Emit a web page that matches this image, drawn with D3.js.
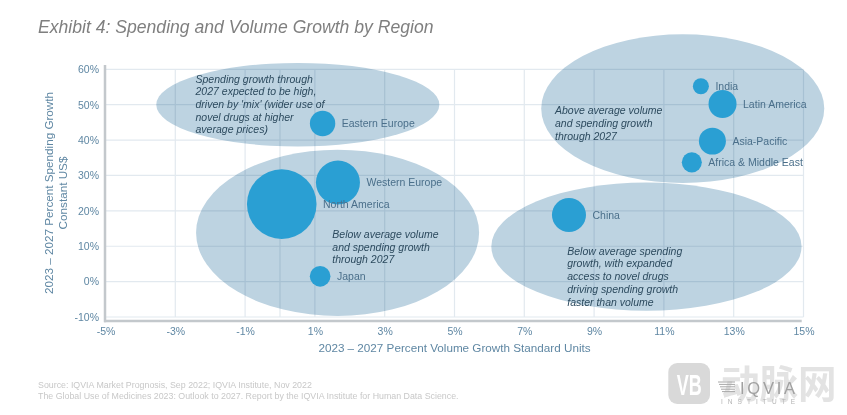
<!DOCTYPE html>
<html>
<head>
<meta charset="utf-8">
<script src="https://cdnjs.cloudflare.com/ajax/libs/d3/7.8.5/d3.min.js"></script>
<style>
  html, body { margin: 0; padding: 0; background: #fff; }
  svg { display: block; font-family: "Liberation Sans", Arial, sans-serif; background: #fff; }
</style>
</head>
<body>
<svg id="chart" width="847" height="415"></svg>
<script>
// regions
var regions = ['Eastern Europe', 'Western Europe', 'North America', 'Japan', 'China', 'India', 'Latin America', 'Asia-Pacific', 'Africa & Middle East'];
var volumeGrowth = [1.22, 1.66, 0.05, 1.15, 8.28, 12.06, 12.68, 12.39, 11.8];
var spendGrowth = [44.7, 28, 21.9, 1.5, 18.8, 55.2, 50.2, 39.7, 33.7];
var marketSize = [13.3, 40, 100, 8.8, 23.9, 5.3, 16.2, 15, 8.3];

var xTicks = [-5, -3, -1, 1, 3, 5, 7, 9, 11, 13, 15];
var xGrid = [-3, -1, 0, 1, 3, 5, 7, 9, 11, 13, 15];
var yTicks = [-10, 0, 10, 20, 30, 40, 50, 60];

// shaded groupings, centre and radii in axis units
var zoneX = [0.51, 1.65, 11.54, 10.5];
var zoneY = [50, 13.8, 48.9, 9.9];
var zoneRx = [4.055, 4.055, 4.055, 4.445];
var zoneRy = [11.8, 23.5, 21, 18.1];

var noteLines = [
  ["Spending growth through", "2027 expected to be high,", "driven by 'mix' (wider use of", "novel drugs at higher", "average prices)"],
  ["Below average volume", "and spending growth", "through 2027"],
  ["Above average volume", "and spending growth", "through 2027"],
  ["Below average spending", "growth, with expanded", "access to novel drugs", "driving spending growth", "faster than volume"]
];
var noteX = [-2.42, 1.5, 7.88, 8.23];
var noteY = [56.25, 12.3, 47.3, 7.6];

var X_LEFT = 105.5, X_RIGHT = 803.5, Y_TOP = 69.3, Y_BOTTOM = 317;
var AXIS_COLOR = '#5f87a3';
var NOTE_COLOR = '#2c4a5e';
var FONT = '"Liberation Sans", Arial, sans-serif';

var svg = d3.select('#chart');

var x = d3.scaleLinear().domain([-5, 15]).range([X_LEFT, X_RIGHT]);
var y = d3.scaleLinear().domain([-10, 60]).range([Y_BOTTOM, Y_TOP]);
var r = d3.scaleSqrt().domain([0, 100]).range([0, 34.8]);

svg.append('text')
  .attr('x', 38).attr('y', 33)
  .attr('font-size', 17.6).attr('font-style', 'italic')
  .attr('fill', '#7f7f7f')
  .text('Exhibit 4: Spending and Volume Growth by Region');

// grid
var grid = svg.append('g');
grid.selectAll('line.gx').data(xGrid).enter().append('line')
  .attr('x1', function(d) { return x(d); }).attr('x2', function(d) { return x(d); })
  .attr('y1', Y_TOP).attr('y2', Y_BOTTOM)
  .attr('stroke', '#e2e9ef').attr('stroke-width', 1.2);
grid.selectAll('line.gy').data(yTicks).enter().append('line')
  .attr('x1', X_LEFT).attr('x2', X_RIGHT)
  .attr('y1', function(d) { return y(d); }).attr('y2', function(d) { return y(d); })
  .attr('stroke', '#e2e9ef').attr('stroke-width', 1.2);

// shaded zones, multiplied so the grid still shows through
svg.append('g').selectAll('ellipse').data(zoneX).enter().append('ellipse')
  .attr('cx', function(d) { return x(d); })
  .attr('cy', function(d, i) { return y(zoneY[i]); })
  .attr('rx', function(d, i) { return x(zoneRx[i]) - x(0); })
  .attr('ry', function(d, i) { return y(0) - y(zoneRy[i]); })
  .attr('fill', '#bdd3e1')
  .style('mix-blend-mode', 'multiply');

// axes
var xAxis = d3.axisBottom(x).tickValues(xTicks).tickSize(0).tickPadding(3)
  .tickFormat(function(d) { return d + '%'; });
var yAxis = d3.axisLeft(y).tickValues(yTicks).tickSize(0).tickPadding(6)
  .tickFormat(function(d) { return d + '%'; });

var gx = svg.append('g').attr('transform', 'translate(0,321)').call(xAxis);
gx.select('.domain').remove();
gx.selectAll('text').attr('font-size', 10.5).attr('fill', AXIS_COLOR).attr('font-family', FONT);
gx.selectAll('text').attr('y', 7);

var gy = svg.append('g').attr('transform', 'translate(105,0)').call(yAxis);
gy.select('.domain').remove();
gy.selectAll('text').attr('font-size', 10.5).attr('fill', AXIS_COLOR).attr('font-family', FONT);

svg.append('line')
  .attr('x1', 105).attr('x2', 105).attr('y1', 65).attr('y2', 322.2)
  .attr('stroke', '#c3c8cc').attr('stroke-width', 2.5);
svg.append('line')
  .attr('x1', 104).attr('x2', 801.7).attr('y1', 321).attr('y2', 321)
  .attr('stroke', '#c3c8cc').attr('stroke-width', 2.5);

svg.append('text')
  .attr('x', 454.5).attr('y', 352)
  .attr('text-anchor', 'middle').attr('font-size', 11.7)
  .attr('fill', AXIS_COLOR)
  .text('2023 – 2027 Percent Volume Growth Standard Units');

var yTitle = svg.append('text')
  .attr('transform', 'translate(0,193) rotate(-90)')
  .attr('text-anchor', 'middle').attr('font-size', 11.7)
  .attr('fill', AXIS_COLOR);
yTitle.append('tspan').attr('x', 0).attr('y', 53).text('2023 – 2027 Percent Spending Growth');
yTitle.append('tspan').attr('x', 0).attr('y', 67).text('Constant US$');

// notes
noteLines.forEach(function(lines, i) {
  var t = svg.append('text')
    .attr('font-size', 10.5).attr('font-style', 'italic')
    .attr('fill', NOTE_COLOR);
  lines.forEach(function(line, j) {
    t.append('tspan')
      .attr('x', x(noteX[i]))
      .attr('y', y(noteY[i]) + j * 12.7)
      .text(line);
  });
});

// bubbles
svg.append('g').selectAll('circle').data(regions).enter().append('circle')
  .attr('cx', function(d, i) { return x(volumeGrowth[i]); })
  .attr('cy', function(d, i) { return y(spendGrowth[i]); })
  .attr('r', function(d, i) { return r(marketSize[i]); })
  .attr('fill', '#2a9fd3');

svg.append('g').selectAll('text').data(regions).enter().append('text')
  .attr('x', function(d, i) { return x(volumeGrowth[i]) + r(marketSize[i]) + 6.5; })
  .attr('y', function(d, i) { return y(spendGrowth[i]) + 3.6; })
  .attr('font-size', 10.5)
  .attr('fill', '#4a6f8a')
  .text(function(d) { return d; });

// source
var source = svg.append('text').attr('font-size', 8.83).attr('fill', '#c8c8c8');
source.append('tspan').attr('x', 38).attr('y', 388).text('Source: IQVIA Market Prognosis, Sep 2022; IQVIA Institute, Nov 2022');
source.append('tspan').attr('x', 38).attr('y', 399).text('The Global Use of Medicines 2023: Outlook to 2027. Report by the IQVIA Institute for Human Data Science.');

// logos in the corner
var mark = svg.append('g');
mark.append('rect')
  .attr('x', 668.3).attr('y', 363).attr('width', 41.7).attr('height', 41).attr('rx', 9)
  .attr('fill', '#d9d9d9');
mark.append('text')
  .attr('x', 676.7).attr('y', 395)
  .attr('font-size', 30).attr('font-weight', 'bold').attr('fill', '#fff')
  .attr('textLength', 25).attr('lengthAdjust', 'spacingAndGlyphs')
  .text('VB');
mark.append('text')
  .attr('x', 721).attr('y', 398)
  .attr('font-size', 38.5).attr('font-weight', 'bold').attr('fill', '#e3e3e3')
  .attr('font-family', '"Noto Sans CJK SC", sans-serif')
  .text('动脉网');
mark.selectAll('line').data([0, 1, 2, 3, 4]).enter().append('line')
  .attr('x1', function(d) { return 718 + d; }).attr('x2', 735)
  .attr('y1', function(d) { return 382 + d * 2.4; }).attr('y2', function(d) { return 382 + d * 2.4; })
  .attr('stroke', '#a8a8a8').attr('stroke-width', 1);
mark.append('text')
  .attr('x', 740).attr('y', 393.5)
  .attr('font-size', 16.5).attr('fill', '#a0a0a0')
  .attr('textLength', 55)
  .text('IQVIA');
mark.append('text')
  .attr('x', 721).attr('y', 403.5)
  .attr('font-size', 6.5).attr('fill', '#b4b4b4')
  .attr('textLength', 74)
  .text('INSTITUTE');
</script>
</body>
</html>
